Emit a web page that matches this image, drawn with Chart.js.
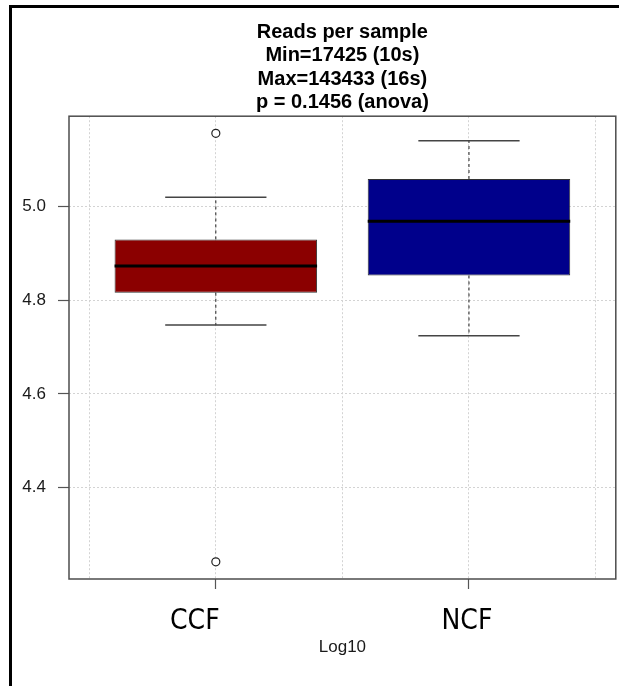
<!DOCTYPE html>
<html>
<head>
<meta charset="utf-8">
<title>Reads per sample</title>
<script src="https://cdn.jsdelivr.net/npm/chart.js@4.4.1/dist/chart.umd.min.js"></script>
<style>
  html, body { margin: 0; padding: 0; background: #fff; }
  #wrap { position: relative; width: 619px; height: 686px; overflow: hidden; }
  #frame { position: absolute; left: 9px; top: 5px; width: 700px; height: 800px;
           border-left: 3px solid #000; border-top: 3px solid #000; }
  canvas { position: absolute; left: 0; top: 0; }
</style>
</head>
<body>
<div id="wrap">
  <div id="frame"></div>
  <canvas id="readsChart" width="621" height="686"></canvas>
</div>
<script>
// log10 reads per sample, summary per group
const groups = ['CCF', 'NCF'];
const lowerWhisker = [4.747, 4.724];
const lowerHinge = [4.816, 4.853];
const medians = [4.873, 4.969];
const upperHinge = [4.930, 5.059];
const upperWhisker = [5.020, 5.141];
const outliers = [[5.1566, 4.2412], []];

const titleLines = ['Reads per sample', 'Min=17425 (10s)', 'Max=143433 (16s)', 'p = 0.1456 (anova)'];
const yTicks = [4.4, 4.6, 4.8, 5.0];
const xGrid = [0.5, 1, 1.5, 2, 2.5];

const FONT = "'Liberation Sans', Arial, sans-serif";
const boxHalf = 0.4;
const capHalf = 0.2;

// axis limits like R: data range plus 4% each side
const allY = lowerWhisker.concat(upperWhisker, outliers.flat());
const yLo = Math.min(...allY), yHi = Math.max(...allY);
const yPad = (yHi - yLo) * 0.04;
const xLo = 0.5, xHi = groups.length + 0.5;
const xPad = (xHi - xLo) * 0.04;

// turn [x0, y0, x1, y1] pieces into one line with gaps between pieces
function segments(pieces) {
    const pts = [];
    pieces.forEach(([x0, y0, x1, y1]) => {
        pts.push({ x: x0, y: y0 }, { x: x1, y: y1 }, { x: x1, y: null });
    });
    return pts;
}

const stems = segments(groups.flatMap((g, i) => [
    [i + 1, upperHinge[i], i + 1, upperWhisker[i]],
    [i + 1, lowerHinge[i], i + 1, lowerWhisker[i]]
]));
const caps = segments(groups.flatMap((g, i) => [
    [i + 1 - capHalf, upperWhisker[i], i + 1 + capHalf, upperWhisker[i]],
    [i + 1 - capHalf, lowerWhisker[i], i + 1 + capHalf, lowerWhisker[i]]
]));
const medianLines = segments(groups.map((g, i) =>
    [i + 1 - boxHalf, medians[i], i + 1 + boxHalf, medians[i]]));
const outlierPoints = groups.flatMap((g, i) => outliers[i].map(v => ({ x: i + 1, y: v })));

const plotBox = {
    id: 'plotBox',
    afterDraw(chart) {
        const { ctx, chartArea: a } = chart;
        ctx.save();
        ctx.strokeStyle = '#4d4d4d';
        ctx.lineWidth = 1.5;
        ctx.strokeRect(a.left, a.top, a.right - a.left, a.bottom - a.top);
        ctx.restore();
    }
};

const groupLabels = {
    id: 'groupLabels',
    afterDraw(chart, args, opts) {
        const { ctx } = chart;
        const x = chart.scales.x;
        ctx.save();
        ctx.font = opts.font;
        ctx.fillStyle = '#000';
        ctx.textAlign = 'center';
        ctx.textBaseline = 'middle';
        groups.forEach((g, i) => {
            ctx.fillText(g, x.getPixelForValue(i + 1) + opts.shift[i], x.top + opts.offset);
        });
        ctx.restore();
    }
};

const gridStyle = {
    color: '#d3d3d3',
    lineWidth: 1,
    tickBorderDash: [],
    tickWidth: 1.2
};
// dotted grid lines (v4 reads the dash from the border options)
const gridBorder = { display: false, dash: [2, 2] };

new Chart(document.getElementById('readsChart'), {
    type: 'line',
    data: {
        datasets: [
            {
                type: 'bar',
                data: groups.map((g, i) => ({ x: i + 1, y: [lowerHinge[i], upperHinge[i]] })),
                backgroundColor: ['#8b0000', '#00008b'],
                borderColor: '#333',
                borderWidth: 1,
                borderSkipped: false,
                categoryPercentage: 1,
                barPercentage: 1.6,
                order: 5
            },
            {
                data: stems,
                borderColor: '#222',
                borderWidth: 1,
                borderDash: [3, 3],
                pointRadius: 0,
                spanGaps: false,
                order: 4
            },
            {
                data: caps,
                borderColor: '#444',
                borderWidth: 1.5,
                pointRadius: 0,
                spanGaps: false,
                order: 3
            },
            {
                data: medianLines,
                borderColor: '#000',
                borderWidth: 3,
                pointRadius: 0,
                spanGaps: false,
                order: 2
            },
            {
                data: outlierPoints,
                showLine: false,
                pointStyle: 'circle',
                pointRadius: 4,
                pointBorderWidth: 1.2,
                pointBorderColor: '#222',
                pointBackgroundColor: '#fff',
                order: 1
            }
        ]
    },
    options: {
        responsive: false,
        animation: false,
        devicePixelRatio: 1,
        layout: { padding: { left: 9, right: 0, top: 0, bottom: 0 } },
        plugins: {
            legend: { display: false },
            tooltip: { enabled: false },
            title: {
                display: true,
                text: titleLines,
                fullSize: false,
                color: '#000',
                font: { family: FONT, size: 20, weight: 'bold', lineHeight: 1.165 },
                padding: { top: 21, bottom: 2 }
            },
            groupLabels: {
                font: "28px 'Liberation Sans Narrow', 'DejaVu Sans Condensed', sans-serif",
                shift: [-21, -2],
                offset: 43
            }
        },
        scales: {
            x: {
                type: 'linear',
                min: xLo - xPad,
                max: xHi + xPad,
                offset: false,
                z: 1,
                afterBuildTicks: s => { s.ticks = xGrid.map(v => ({ value: v })); },
                afterFit: s => { s.height = 107; },
                border: gridBorder,
                grid: Object.assign({}, gridStyle, {
                    offset: false,
                    tickLength: 10,
                    tickColor: c => Number.isInteger(c.tick && c.tick.value) ? '#555' : 'rgba(0,0,0,0)'
                }),
                ticks: { display: false },
                title: {
                    display: true,
                    text: 'Log10',
                    color: '#1a1a1a',
                    font: { family: FONT, size: 17 },
                    padding: { top: 0, bottom: 28 }
                }
            },
            y: {
                type: 'linear',
                min: yLo - yPad,
                max: yHi + yPad,
                z: 1,
                afterBuildTicks: s => { s.ticks = yTicks.map(v => ({ value: v })); },
                afterFit: s => { s.width = 60; },
                border: gridBorder,
                grid: Object.assign({}, gridStyle, { tickLength: 11, tickColor: '#555' }),
                ticks: {
                    padding: 12,
                    color: '#1a1a1a',
                    font: { family: FONT, size: 17 },
                    callback: v => v.toFixed(1)
                }
            }
        }
    },
    plugins: [plotBox, groupLabels]
});
</script>
</body>
</html>
